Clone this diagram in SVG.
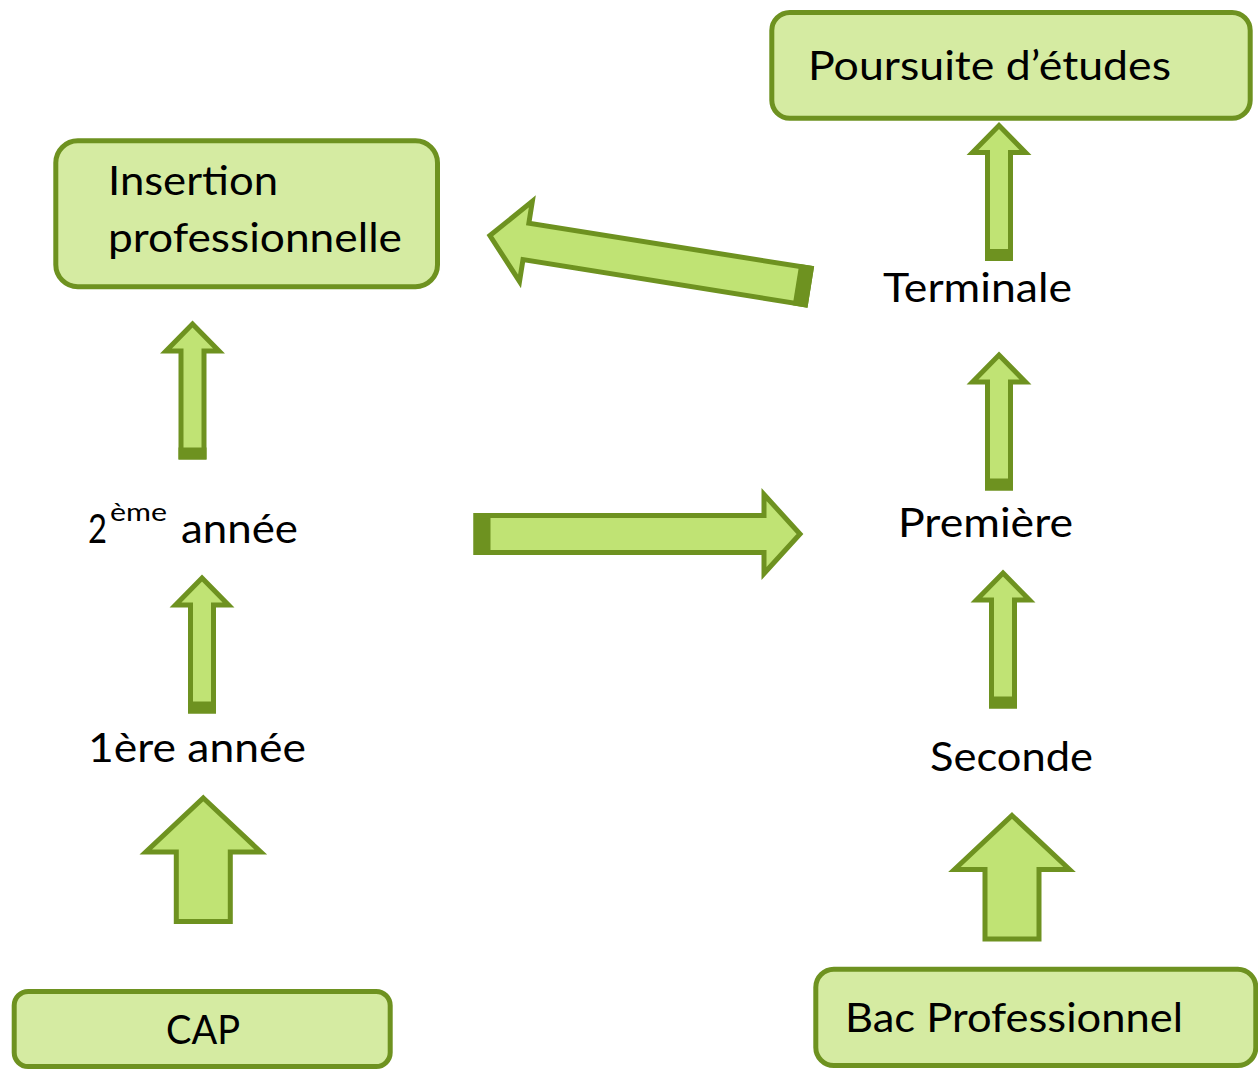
<svg xmlns="http://www.w3.org/2000/svg" xmlns:xlink="http://www.w3.org/1999/xlink" width="1258" height="1070" viewBox="0 0 1258 1070">
<style>
.box{fill:#d5eba2;stroke:#6e9220;stroke-width:5}
.arr{fill:#c0e374;stroke:#6e9220;stroke-width:5;stroke-linejoin:miter}
.tail{fill:#6e9220}
.t{font-family:Lato,"Open Sans","Liberation Sans",sans-serif;font-size:41px;fill:#000}
.sup{font-family:Lato,"Open Sans","Liberation Sans",sans-serif;font-size:25px;fill:#000}
</style>
<defs>
<g id="thin">
<path class="arr" d="M0,0 L26.5,27 L11.5,27 L11.5,133 L-11.5,133 L-11.5,27 L-26.5,27 Z"/>
<rect class="tail" x="-14" y="123.5" width="28" height="12"/>
</g>
<path id="fat" class="arr" d="M0,0 L57.5,54 L27,54 L27,123.5 L-27,123.5 L-27,54 L-57.5,54 Z"/>
</defs>
<rect width="1258" height="1070" fill="#fff"/>
<g id="poursuite">
<rect class="box" x="771.8" y="12.5" width="478.4" height="105.7" rx="18"/>
<text class="t" x="808" y="80" textLength="363" lengthAdjust="spacingAndGlyphs">Poursuite d’études</text>
</g>
<g id="insertion">
<rect class="box" x="55.8" y="140.8" width="381.7" height="146" rx="22"/>
<text class="t" x="108" y="195" textLength="170" lengthAdjust="spacingAndGlyphs">Insertion</text>
<text class="t" x="108" y="252" textLength="294" lengthAdjust="spacingAndGlyphs">professionnelle</text>
</g>
<g id="terminale">
<text class="t" x="883" y="302" textLength="189" lengthAdjust="spacingAndGlyphs">Terminale</text>
</g>
<g id="premiere">
<text class="t" x="898" y="537" textLength="175" lengthAdjust="spacingAndGlyphs">Première</text>
</g>
<g id="seconde">
<text class="t" x="930" y="771" textLength="163" lengthAdjust="spacingAndGlyphs">Seconde</text>
</g>
<g id="deuxieme">
<text class="t" x="88" y="543" textLength="19" lengthAdjust="spacingAndGlyphs">2</text>
<text class="sup" x="110" y="521" textLength="57" lengthAdjust="spacingAndGlyphs">ème</text>
<text class="t" x="181" y="543" textLength="117" lengthAdjust="spacingAndGlyphs">année</text>
</g>
<g id="premiere-annee">
<text class="t" x="88" y="762" textLength="218" lengthAdjust="spacingAndGlyphs">1ère année</text>
</g>
<g id="cap">
<rect class="box" x="14.2" y="991.5" width="376" height="75" rx="14"/>
<text class="t" x="166" y="1044" textLength="74" lengthAdjust="spacingAndGlyphs">CAP</text>
</g>
<g id="bac">
<rect class="box" x="815.8" y="969.2" width="440" height="96.3" rx="18"/>
<text class="t" x="845" y="1032" textLength="338" lengthAdjust="spacingAndGlyphs">Bac Professionnel</text>
</g>
<g id="connectors">
<use xlink:href="#fat" transform="translate(203.3,798)"/>
<use xlink:href="#fat" transform="translate(1012,815.5)"/>
<use xlink:href="#thin" transform="translate(202,578)"/>
<use xlink:href="#thin" transform="translate(192.5,324)"/>
<use xlink:href="#thin" transform="translate(1003,573)"/>
<use xlink:href="#thin" transform="translate(999,355)"/>
<use xlink:href="#thin" transform="translate(999,125.5)"/>
<g>
<path class="arr" d="M476,515.5 L764,515.5 L764,494.5 L800,534 L764,573.5 L764,552.5 L476,552.5 Z"/>
<rect class="tail" x="473.5" y="513" width="17" height="42"/>
</g>
<g transform="translate(810.8,287) rotate(9.1)">
<path class="arr" d="M-2.5,-18.5 L-288.5,-18.5 L-288.5,-40.5 L-325,0 L-288.5,40.5 L-288.5,18.5 L-2.5,18.5 Z"/>
<rect class="tail" x="-15" y="-21" width="15" height="42"/>
</g>
</g>
</svg>
